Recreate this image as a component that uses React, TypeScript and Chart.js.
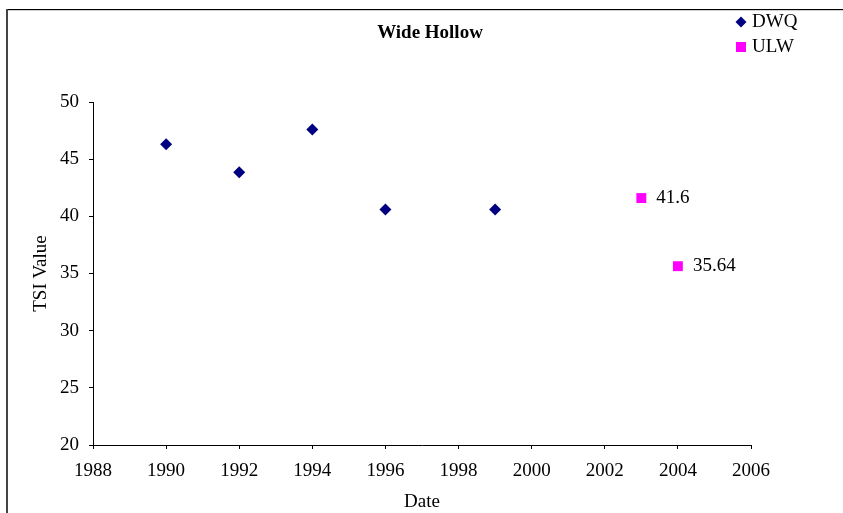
import { useEffect, useRef } from 'react';
import { Chart, registerables } from 'chart.js';

Chart.register(...registerables);

// Series and axis content
const chartTitle = 'Wide Hollow';
const xAxisTitle = 'Date';
const yAxisTitle = 'TSI Value';
const seriesNames = ['DWQ', 'ULW'];

const dwqYears = [1990, 1992, 1994, 1996, 1999];
const dwqValues = [46.3, 43.85, 47.6, 40.6, 40.6];

const ulwYears = [2003, 2004];
const ulwValues = [41.6, 35.64];
const ulwLabels = ['41.6', '35.64'];

const xMin = 1988;
const xMax = 2006;
const xStep = 2;
const yMin = 20;
const yMax = 50;
const yStep = 5;

const FONT = "'Liberation Serif', 'Times New Roman', serif";
const FONT_SIZE = 19;
const DWQ_COLOR = '#000080';
const ULW_COLOR = '#FF00FF';

function drawDiamond(ctx: CanvasRenderingContext2D, x: number, y: number, r: number, color: string) {
  ctx.save();
  ctx.fillStyle = color;
  ctx.beginPath();
  ctx.moveTo(x, y - r);
  ctx.lineTo(x + r, y);
  ctx.lineTo(x, y + r);
  ctx.lineTo(x - r, y);
  ctx.closePath();
  ctx.fill();
  ctx.restore();
}

const decorPlugin = {
  id: 'decor',
  beforeDraw(chart: any) {
    const { ctx, width, height } = chart;
    ctx.save();
    ctx.fillStyle = '#ffffff';
    ctx.fillRect(0, 0, width, height);
    // outer frame (top and left edges)
    ctx.fillStyle = '#000000';
    ctx.fillRect(6, 9, width - 6, 1);
    ctx.fillStyle = '#cfcfcf';
    ctx.fillRect(8, 10, width - 8, 1);
    ctx.fillStyle = '#444444';
    ctx.fillRect(6, 9, 2, height - 9);
    ctx.restore();
  },
  afterDraw(chart: any) {
    const { ctx } = chart;
    ctx.save();
    // title
    ctx.fillStyle = '#000';
    ctx.font = `bold ${FONT_SIZE}px ${FONT}`;
    ctx.textAlign = 'center';
    ctx.textBaseline = 'middle';
    ctx.fillText(chartTitle, 430, 33);

    // legend
    ctx.font = `${FONT_SIZE}px ${FONT}`;
    ctx.textAlign = 'left';
    drawDiamond(ctx, 741, 22, 5.5, DWQ_COLOR);
    ctx.fillStyle = '#000';
    ctx.fillText(seriesNames[0], 752, 22);
    ctx.fillStyle = ULW_COLOR;
    ctx.fillRect(736, 42, 10, 10);
    ctx.fillStyle = '#000';
    ctx.fillText(seriesNames[1], 752, 47);

    // value labels on ULW points
    const meta = chart.getDatasetMeta(1);
    meta.data.forEach((pt: any, i: number) => {
      ctx.fillText(ulwLabels[i], pt.x + 15, pt.y);
    });
    ctx.restore();
  },
};

export default function App() {
  const canvasRef = useRef<HTMLCanvasElement | null>(null);

  useEffect(() => {
    if (!canvasRef.current) return;
    const chart = new Chart(canvasRef.current, {
      type: 'scatter',
      data: {
        datasets: [
          {
            label: seriesNames[0],
            data: dwqYears.map((x, i) => ({ x, y: dwqValues[i] })),
            pointStyle: 'rectRot',
            pointRadius: 6,
            backgroundColor: DWQ_COLOR,
            borderColor: DWQ_COLOR,
            borderWidth: 0,
          },
          {
            label: seriesNames[1],
            data: ulwYears.map((x, i) => ({ x, y: ulwValues[i] })),
            pointStyle: 'rect',
            pointRadius: 7,
            backgroundColor: ULW_COLOR,
            borderColor: ULW_COLOR,
            borderWidth: 0,
          },
        ],
      },
      options: {
        responsive: false,
        animation: false,
        events: [],
        layout: { padding: { left: 26, top: 102, right: 92, bottom: 0 } },
        plugins: {
          legend: { display: false },
          title: { display: false },
          tooltip: { enabled: false },
        },
        scales: {
          x: {
            type: 'linear',
            min: xMin,
            max: xMax,
            afterFit: (s: any) => { s.height = 68; },
            ticks: {
              stepSize: xStep,
              callback: (v: any) => String(v),
              color: '#000',
              font: { family: FONT, size: FONT_SIZE },
              padding: 11,
              maxRotation: 0,
            },
            grid: { drawOnChartArea: false, tickLength: 4, tickColor: '#000' },
            border: { color: '#000', width: 1 },
            title: {
              display: true,
              text: xAxisTitle,
              color: '#000',
              font: { family: FONT, size: FONT_SIZE },
              padding: { top: 0, bottom: 0 },
            },
          },
          y: {
            type: 'linear',
            min: yMin,
            max: yMax,
            afterFit: (s: any) => { s.width = 67; },
            ticks: {
              stepSize: yStep,
              color: '#000',
              font: { family: FONT, size: FONT_SIZE },
              padding: 10,
            },
            grid: { drawOnChartArea: false, tickLength: 4, tickColor: '#000' },
            border: { color: '#000', width: 1 },
            title: {
              display: true,
              text: yAxisTitle,
              color: '#000',
              font: { family: FONT, size: FONT_SIZE },
              padding: { top: 4, bottom: 4 },
            },
          },
        },
      },
      plugins: [decorPlugin],
    });
    return () => chart.destroy();
  }, []);

  return (
    <div style={{ position: 'absolute', left: 0, top: 0, width: 843, height: 513 }}>
      <canvas ref={canvasRef} width={843} height={513} style={{ display: 'block' }} />
    </div>
  );
}
